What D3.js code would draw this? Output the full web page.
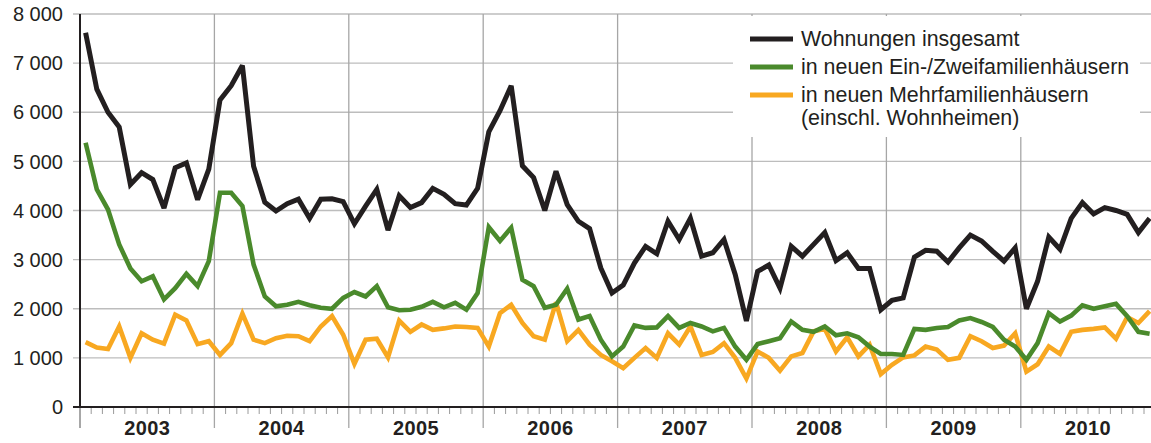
<!DOCTYPE html>
<html>
<head>
<meta charset="utf-8">
<script src="https://cdn.jsdelivr.net/npm/d3@7"></script>
<style>
  body { margin: 0; background: #fff; }
  svg { display: block; font-family: "Liberation Sans", Arial, sans-serif; }
</style>
</head>
<body>
<svg id="chart" width="1151" height="443"></svg>
<script>
// Monatswerte Jan 2003 - Dez 2010
const years = ["2003", "2004", "2005", "2006", "2007", "2008", "2009", "2010"];
const yTicks = [0, 1000, 2000, 3000, 4000, 5000, 6000, 7000, 8000];

const insgesamt = [
    7620, 6470, 6000, 5700, 4530, 4770, 4630, 4050, 4870, 4970, 4220, 4840,
    6250, 6540, 6950, 4900, 4170, 3990, 4140, 4230, 3840, 4230, 4240, 4180,
    3730, 4090, 4430, 3600, 4300, 4060, 4160, 4450, 4330, 4140, 4110, 4450,
    5600, 6030, 6540, 4910, 4670, 4000, 4800, 4120, 3780, 3630, 2830, 2320,
    2480, 2930, 3270, 3120, 3780, 3410, 3840, 3070, 3140, 3410, 2700, 1750,
    2760, 2890, 2420, 3270, 3070, 3310, 3550, 2980, 3140, 2820, 2820, 1980,
    2170, 2220, 3050, 3190, 3170, 2950, 3240, 3500, 3380, 3170, 2970, 3240,
    2000, 2560, 3460, 3210, 3840, 4160, 3930, 4060, 4000, 3920, 3550, 3840
];
const einZwei = [
    5380, 4430, 4020, 3310, 2820, 2560, 2660, 2190, 2420, 2710, 2460, 2970,
    4360, 4360, 4090, 2900, 2250, 2050, 2080, 2140, 2070, 2020, 2000, 2220,
    2340, 2250, 2460, 2030, 1970, 1980, 2040, 2140, 2030, 2120, 1980, 2320,
    3660, 3380, 3650, 2590, 2460, 2020, 2080, 2410, 1780, 1850, 1370, 1030,
    1230, 1660, 1610, 1620, 1850, 1610, 1710, 1640, 1540, 1610, 1230, 960,
    1280, 1340, 1400, 1740, 1570, 1530, 1640, 1460, 1500, 1420, 1230, 1080,
    1080, 1060, 1590, 1570, 1610, 1630, 1760, 1810, 1730, 1630, 1370, 1230,
    960, 1300, 1910, 1740, 1860, 2070, 2000, 2050, 2100, 1850, 1530, 1490
];
const mehr = [
    1320, 1210, 1180, 1640, 1000, 1500, 1370, 1290, 1880, 1760, 1280, 1340,
    1060, 1300, 1900, 1370, 1300, 1400, 1450, 1440, 1340, 1640, 1850, 1470,
    880, 1370, 1390, 1010, 1760, 1530, 1680, 1570, 1600, 1640, 1630, 1610,
    1230, 1910, 2080, 1710, 1440, 1370, 2130, 1340, 1570, 1270, 1060, 930,
    790, 1000, 1200, 1000, 1500, 1270, 1640, 1060, 1120, 1300, 1000, 580,
    1130, 1000, 740, 1030, 1100, 1540, 1590, 1130, 1420, 1030, 1270, 670,
    860, 1010, 1050, 1230, 1170, 960, 1000, 1440, 1340, 1200, 1250, 1500,
    720, 870, 1230, 1080, 1530, 1570, 1590, 1620, 1390, 1830, 1710, 1950
];

const seriesNames = [
    ["Wohnungen insgesamt"],
    ["in neuen Ein-/Zweifamilienhäusern"],
    ["in neuen Mehrfamilienhäusern", "(einschl. Wohnheimen)"]
];
const seriesColors = ["#231f20", "#4a8a2c", "#f8a821"];
const series = [insgesamt, einZwei, mehr];

const svg = d3.select("#chart"),
    width = +svg.attr("width"),
    left = 80,
    monthW = 11.2,
    nMonths = years.length * 12;

const x = d3.scaleLinear().domain([0, nMonths]).range([left, left + nMonths * monthW]);
const y = d3.scaleLinear().domain([0, 8000]).range([407, 14]);
const fmt = d3.formatLocale({ decimal: ",", thousands: " ", grouping: [3], currency: ["", "€"] }).format(",");

// horizontal gridlines
svg.append("g")
    .selectAll("line")
    .data(yTicks.filter(d => d > 0))
    .join("line")
    .attr("x1", 73)
    .attr("x2", width)
    .attr("y1", d => y(d))
    .attr("y2", d => y(d))
    .attr("stroke", "#bdbdbd")
    .attr("stroke-width", 1.4);

// vertical year lines
svg.append("g")
    .selectAll("line")
    .data(d3.range(12, nMonths, 12))
    .join("line")
    .attr("x1", d => x(d))
    .attr("x2", d => x(d))
    .attr("y1", y(8000))
    .attr("y2", 428)
    .attr("stroke", "#a6a6a6")
    .attr("stroke-width", 1.3);

// white legend area over the grid
svg.append("rect")
    .attr("x", 733)
    .attr("y", 16)
    .attr("width", 407)
    .attr("height", 121)
    .attr("fill", "#fff");

// month ticks
svg.append("g")
    .selectAll("line")
    .data(d3.range(1, nMonths).filter(d => d % 12 !== 0))
    .join("line")
    .attr("x1", d => x(d))
    .attr("x2", d => x(d))
    .attr("y1", y(0))
    .attr("y2", 414)
    .attr("stroke", "#9a9a9a")
    .attr("stroke-width", 1);

svg.append("line")
    .attr("x1", left).attr("x2", left)
    .attr("y1", y(0)).attr("y2", 428)
    .attr("stroke", "#8a8a8a")
    .attr("stroke-width", 1.5);

// y axis labels
svg.append("g")
    .selectAll("text")
    .data(yTicks)
    .join("text")
    .attr("x", 63)
    .attr("y", d => y(d))
    .attr("dy", "0.36em")
    .attr("text-anchor", "end")
    .attr("fill", "#231f20")
    .style("font-size", "20px")
    .text(d => fmt(d));

// year labels
svg.append("g")
    .selectAll("text")
    .data(years)
    .join("text")
    .attr("x", (d, i) => x(i * 12 + 6))
    .attr("y", 435)
    .attr("text-anchor", "middle")
    .attr("fill", "#231f20")
    .style("font-size", "20px")
    .style("font-weight", "bold")
    .style("letter-spacing", "0.4px")
    .text(d => d);

// data lines
const line = d3.line()
    .x((d, i) => x(i + 0.5))
    .y(d => y(d));

svg.append("g")
    .selectAll("path")
    .data([mehr, einZwei, insgesamt])
    .join("path")
    .attr("d", line)
    .attr("fill", "none")
    .attr("stroke", d => seriesColors[series.indexOf(d)])
    .attr("stroke-width", d => d === insgesamt ? 5 : 4.6)
    .attr("stroke-linejoin", "miter")
    .attr("stroke-miterlimit", 3);

// axes lines
svg.append("line")
    .attr("x1", left).attr("x2", left)
    .attr("y1", y(8000)).attr("y2", y(0) + 1)
    .attr("stroke", "#231f20")
    .attr("stroke-width", 2);

svg.append("line")
    .attr("x1", 73).attr("x2", width)
    .attr("y1", y(0)).attr("y2", y(0))
    .attr("stroke", "#231f20")
    .attr("stroke-width", 2.2);

// legend
const legendY = [39, 67, 95];
const legend = svg.append("g");
seriesNames.forEach((lines, i) => {
    legend.append("line")
        .attr("x1", 750).attr("x2", 793)
        .attr("y1", legendY[i]).attr("y2", legendY[i])
        .attr("stroke", seriesColors[i])
        .attr("stroke-width", 5);
    lines.forEach((t, j) => {
        legend.append("text")
            .attr("x", 801)
            .attr("y", legendY[i] + 7 + j * 23)
            .attr("fill", "#231f20")
            .style("font-size", "21.4px")
            .text(t);
    });
});
</script>
</body>
</html>
